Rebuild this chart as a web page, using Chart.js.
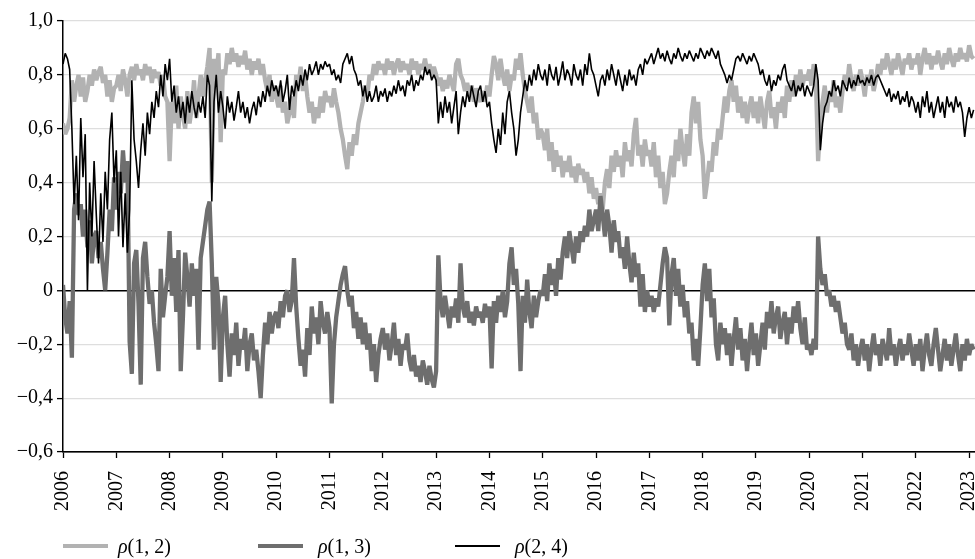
<!DOCTYPE html>
<html><head><meta charset="utf-8">
<script src="https://cdn.jsdelivr.net/npm/chart.js@4.4.1/dist/chart.umd.min.js"></script>
<style>
html,body{margin:0;padding:0;background:#fff;overflow:hidden;width:975px;height:559px;}
#wrap{position:relative;width:975px;height:559px;overflow:hidden;background:#fff;}
#c{position:absolute;left:0;top:0;width:1040px;height:559px;}
.lt{position:absolute;top:534px;height:24px;line-height:24px;font-family:"Liberation Serif",serif;font-size:20px;color:#000;white-space:nowrap;}
.sw{position:absolute;}
</style></head>
<body>
<div id="wrap">
<canvas id="c" width="1040" height="559"></canvas>
<div id="legend"></div>
</div>
<script>
// time axis: semi-monthly observations starting Jan 2006
const startYear = 2006;
const perYear = 24;
const xTicks = [2006,2007,2008,2009,2010,2011,2012,2013,2014,2015,2016,2017,2018,2019,2020,2021,2022,2023];
const yTicks = [-0.6,-0.4,-0.2,0,0.2,0.4,0.6,0.8,1.0];
const seriesNames = ['(1, 2)','(1, 3)','(2, 4)'];

// rho(1,2) light grey
const rho12 = [
0.62,0.58,0.6,0.64,0.78,0.7,0.76,0.8,0.72,0.79,0.7,0.74,0.8,0.76,0.82,0.78,0.81,0.83,0.77,0.8,0.72,0.78,0.7,0.75,
0.76,0.8,0.74,0.82,0.78,0.72,0.8,0.83,0.78,0.84,0.8,0.82,0.78,0.84,0.8,0.83,0.77,0.82,0.79,0.81,0.76,0.8,0.72,0.7,
0.48,0.7,0.62,0.76,0.6,0.72,0.65,0.6,0.74,0.62,0.68,0.78,0.64,0.72,0.8,0.72,0.78,0.83,0.9,0.4,0.86,0.8,0.88,0.55,
0.82,0.8,0.88,0.84,0.9,0.85,0.88,0.83,0.87,0.84,0.89,0.82,0.86,0.8,0.85,0.82,0.86,0.8,0.84,0.78,0.74,0.8,0.7,0.76,
0.72,0.68,0.76,0.66,0.7,0.62,0.66,0.72,0.64,0.8,0.76,0.83,0.74,0.8,0.72,0.66,0.7,0.62,0.68,0.64,0.72,0.66,0.74,0.7,
0.72,0.68,0.75,0.7,0.66,0.6,0.56,0.5,0.45,0.55,0.5,0.58,0.54,0.62,0.66,0.7,0.76,0.72,0.8,0.78,0.84,0.8,0.85,0.82,
0.84,0.8,0.86,0.82,0.85,0.8,0.84,0.86,0.81,0.85,0.82,0.84,0.8,0.86,0.82,0.85,0.8,0.84,0.82,0.86,0.81,0.84,0.8,0.83,
0.8,0.76,0.79,0.74,0.78,0.75,0.8,0.77,0.74,0.84,0.86,0.8,0.78,0.74,0.77,0.72,0.76,0.7,0.75,0.72,0.7,0.74,0.7,0.76,
0.72,0.8,0.87,0.84,0.78,0.86,0.8,0.76,0.82,0.74,0.8,0.78,0.86,0.82,0.88,0.8,0.74,0.7,0.66,0.72,0.62,0.66,0.56,0.6,
0.58,0.52,0.6,0.48,0.55,0.44,0.52,0.46,0.5,0.42,0.48,0.44,0.5,0.42,0.46,0.4,0.47,0.43,0.45,0.4,0.44,0.36,0.42,0.34,
0.38,0.32,0.36,0.3,0.4,0.45,0.38,0.5,0.44,0.52,0.46,0.5,0.42,0.55,0.48,0.52,0.46,0.58,0.64,0.5,0.54,0.46,0.56,0.5,
0.52,0.46,0.55,0.42,0.5,0.38,0.44,0.32,0.36,0.44,0.5,0.42,0.56,0.48,0.6,0.52,0.46,0.58,0.5,0.66,0.72,0.62,0.7,0.56,
0.5,0.34,0.4,0.48,0.44,0.55,0.5,0.6,0.56,0.64,0.72,0.66,0.74,0.78,0.7,0.76,0.66,0.72,0.64,0.7,0.62,0.68,0.72,0.64,
0.7,0.62,0.72,0.66,0.6,0.7,0.74,0.64,0.68,0.6,0.7,0.66,0.72,0.64,0.76,0.7,0.78,0.72,0.8,0.74,0.82,0.76,0.8,0.78,
0.82,0.76,0.84,0.78,0.48,0.62,0.7,0.76,0.66,0.74,0.7,0.78,0.68,0.72,0.66,0.74,0.8,0.76,0.84,0.78,0.74,0.8,0.76,0.82,
0.78,0.72,0.8,0.76,0.82,0.74,0.78,0.84,0.8,0.86,0.82,0.88,0.84,0.8,0.86,0.82,0.88,0.84,0.8,0.86,0.84,0.88,0.82,0.86,
0.84,0.88,0.8,0.86,0.9,0.84,0.88,0.82,0.87,0.84,0.89,0.85,0.82,0.88,0.84,0.9,0.86,0.83,0.88,0.85,0.9,0.86,0.88,0.85,
0.91,0.87,0.86
];

// rho(1,3) dark grey
const rho13 = [
0.02,-0.1,-0.16,-0.04,-0.25,0.3,0.36,0.28,0.32,0.2,0.3,0.16,0.26,0.1,0.2,0.22,0.12,0.18,0.08,0.0,0.14,0.3,0.22,0.42,
0.3,0.44,0.36,0.52,0.4,0.48,-0.19,-0.31,0.1,0.15,-0.05,-0.35,0.12,0.18,0.05,-0.05,0.0,-0.12,-0.2,-0.3,0.08,-0.1,-0.02,0.05,
0.22,-0.02,0.12,-0.08,0.15,-0.3,-0.1,0.14,0.05,-0.06,0.1,-0.02,0.08,-0.22,0.12,0.18,0.24,0.3,0.33,0.1,-0.22,0.05,-0.05,-0.34,
-0.1,-0.02,-0.2,-0.32,-0.16,-0.24,-0.12,-0.28,-0.18,-0.22,-0.14,-0.3,-0.2,-0.16,-0.26,-0.22,-0.3,-0.4,-0.24,-0.12,-0.2,-0.08,-0.16,-0.1,
-0.08,-0.14,-0.04,-0.1,-0.02,0.0,-0.08,-0.04,0.12,-0.06,-0.18,-0.28,-0.22,-0.32,-0.14,-0.24,-0.06,-0.16,-0.1,-0.2,-0.04,-0.12,-0.16,-0.08,
-0.14,-0.42,-0.2,-0.1,-0.04,0.02,0.06,0.09,0.0,-0.06,-0.02,-0.14,-0.08,-0.18,-0.1,-0.2,-0.12,-0.22,-0.16,-0.3,-0.2,-0.34,-0.24,-0.18,
-0.14,-0.22,-0.16,-0.26,-0.2,-0.12,-0.24,-0.18,-0.28,-0.2,-0.22,-0.16,-0.26,-0.3,-0.24,-0.32,-0.28,-0.34,-0.26,-0.3,-0.35,-0.28,-0.33,-0.36,
-0.3,0.13,-0.04,-0.1,-0.02,-0.08,-0.14,-0.06,-0.1,-0.03,-0.12,0.1,-0.06,-0.1,-0.04,-0.12,-0.08,-0.13,-0.06,-0.1,-0.08,-0.12,-0.05,-0.1,
-0.06,-0.29,-0.04,-0.12,-0.02,-0.08,0.0,-0.1,-0.04,0.1,0.16,0.02,0.08,-0.05,-0.3,-0.02,-0.12,0.04,-0.08,-0.14,-0.02,-0.1,-0.04,0.0,
-0.02,0.06,-0.04,0.1,0.02,0.08,-0.02,0.12,0.04,0.14,0.2,0.12,0.22,0.16,0.1,0.2,0.14,0.22,0.18,0.24,0.2,0.3,0.22,0.26,
0.3,0.22,0.35,0.28,0.2,0.3,0.24,0.14,0.26,0.18,0.22,0.12,0.16,0.08,0.2,0.1,0.03,0.14,0.05,0.1,-0.06,0.06,-0.08,0.0,
-0.06,-0.02,-0.08,-0.03,-0.06,0.02,0.1,0.16,0.12,-0.13,0.06,0.12,-0.02,0.08,-0.06,0.02,-0.1,-0.04,-0.16,-0.12,-0.26,-0.18,-0.28,-0.14,
0.02,0.1,-0.04,0.08,-0.1,-0.03,-0.2,-0.26,-0.12,-0.2,-0.14,-0.24,-0.16,-0.28,-0.18,-0.1,-0.22,-0.14,-0.26,-0.18,-0.3,-0.2,-0.12,-0.24,
-0.16,-0.28,-0.2,-0.12,-0.22,-0.08,-0.14,-0.04,-0.16,-0.1,-0.06,-0.18,-0.12,-0.08,-0.2,-0.1,-0.16,-0.06,-0.12,-0.04,-0.14,-0.2,-0.1,-0.22,
-0.2,-0.24,-0.18,-0.22,0.2,0.08,0.02,0.06,-0.02,0.0,-0.06,-0.02,-0.08,-0.04,-0.1,-0.16,-0.12,-0.2,-0.22,-0.16,-0.26,-0.2,-0.28,-0.22,
-0.18,-0.26,-0.2,-0.3,-0.22,-0.16,-0.24,-0.2,-0.28,-0.18,-0.22,-0.26,-0.14,-0.24,-0.2,-0.28,-0.22,-0.18,-0.26,-0.2,-0.24,-0.16,-0.22,-0.28,
-0.2,-0.26,-0.18,-0.3,-0.22,-0.16,-0.24,-0.28,-0.2,-0.14,-0.22,-0.3,-0.24,-0.18,-0.26,-0.2,-0.28,-0.22,-0.16,-0.24,-0.3,-0.2,-0.26,-0.18,
-0.24,-0.2,-0.22
];

// rho(2,4) black
const rho24 = [
0.84,0.88,0.86,0.82,0.6,0.32,0.5,0.26,0.64,0.42,0.58,0.0,0.4,0.2,0.48,0.28,0.1,0.36,0.18,0.44,0.3,0.56,0.66,0.4,
0.52,0.2,0.44,0.16,0.36,0.14,0.3,0.78,0.56,0.48,0.38,0.52,0.62,0.5,0.66,0.58,0.7,0.64,0.74,0.68,0.8,0.72,0.84,0.78,
0.86,0.7,0.76,0.66,0.72,0.64,0.7,0.62,0.72,0.66,0.74,0.68,0.64,0.7,0.66,0.72,0.64,0.8,0.76,0.33,0.7,0.8,0.66,0.74,
0.68,0.6,0.72,0.66,0.7,0.63,0.68,0.74,0.66,0.7,0.64,0.68,0.62,0.67,0.7,0.65,0.72,0.68,0.74,0.7,0.76,0.72,0.78,0.74,
0.76,0.72,0.78,0.7,0.74,0.8,0.67,0.76,0.72,0.78,0.74,0.8,0.76,0.82,0.78,0.84,0.8,0.82,0.85,0.8,0.84,0.82,0.85,0.83,
0.84,0.8,0.82,0.78,0.8,0.77,0.84,0.86,0.88,0.84,0.87,0.82,0.8,0.76,0.78,0.72,0.76,0.7,0.74,0.7,0.72,0.76,0.7,0.74,
0.72,0.75,0.7,0.74,0.72,0.76,0.73,0.78,0.74,0.76,0.72,0.78,0.76,0.8,0.74,0.78,0.76,0.8,0.78,0.83,0.8,0.82,0.78,0.8,
0.78,0.62,0.7,0.64,0.72,0.66,0.7,0.62,0.68,0.74,0.58,0.66,0.72,0.68,0.74,0.7,0.76,0.72,0.68,0.74,0.76,0.7,0.74,0.68,
0.7,0.62,0.56,0.51,0.6,0.54,0.66,0.58,0.7,0.74,0.66,0.6,0.5,0.56,0.66,0.72,0.78,0.74,0.8,0.76,0.82,0.78,0.84,0.8,
0.78,0.82,0.76,0.84,0.8,0.78,0.83,0.76,0.8,0.85,0.78,0.82,0.8,0.76,0.84,0.8,0.78,0.82,0.76,0.84,0.8,0.88,0.82,0.8,
0.76,0.72,0.78,0.8,0.76,0.82,0.78,0.84,0.8,0.76,0.82,0.78,0.74,0.8,0.76,0.82,0.78,0.8,0.76,0.82,0.84,0.8,0.86,0.84,
0.86,0.88,0.84,0.87,0.9,0.86,0.88,0.85,0.89,0.86,0.84,0.88,0.86,0.9,0.87,0.85,0.88,0.86,0.89,0.87,0.85,0.88,0.86,0.9,
0.88,0.86,0.89,0.87,0.9,0.88,0.86,0.89,0.84,0.82,0.8,0.77,0.8,0.78,0.82,0.86,0.87,0.85,0.88,0.86,0.84,0.87,0.85,0.88,
0.86,0.84,0.8,0.82,0.78,0.76,0.8,0.74,0.78,0.76,0.8,0.78,0.82,0.84,0.78,0.76,0.74,0.78,0.72,0.76,0.74,0.77,0.72,0.76,
0.74,0.72,0.76,0.84,0.78,0.52,0.62,0.68,0.7,0.74,0.72,0.78,0.74,0.76,0.72,0.78,0.76,0.74,0.79,0.75,0.78,0.76,0.8,0.77,
0.78,0.76,0.79,0.77,0.8,0.76,0.79,0.8,0.78,0.76,0.74,0.72,0.75,0.7,0.73,0.71,0.74,0.69,0.72,0.7,0.74,0.68,0.72,0.7,
0.66,0.7,0.64,0.72,0.68,0.74,0.66,0.7,0.64,0.68,0.72,0.66,0.7,0.64,0.72,0.68,0.7,0.66,0.72,0.68,0.7,0.66,0.57,0.64,
0.68,0.64,0.67
];

const colors = ['#b2b2b2','#6e6e6e','#000000'];
const widths = [4.3,4.3,1.6];

function toPoints(vals){ return vals.map((v,i)=>({x:startYear + i/perYear, y:v})); }
function fmtY(v){
  if (v === 0) return '0';
  return (v < 0 ? '\u2212' : '') + Math.abs(v).toFixed(1).replace('.', ',');
}
const FONT = {family:'"Liberation Serif", serif', size:20};

const ctx = document.getElementById('c').getContext('2d');
new Chart(ctx, {
  type:'line',
  data:{datasets:[
    {label:'\u03c1'+seriesNames[2], data:toPoints(rho24), borderColor:colors[2], borderWidth:widths[2], order:0},
    {label:'\u03c1'+seriesNames[1], data:toPoints(rho13), borderColor:colors[1], borderWidth:widths[1], order:1},
    {label:'\u03c1'+seriesNames[0], data:toPoints(rho12), borderColor:colors[0], borderWidth:widths[0], order:2}
  ]},
  options:{
    responsive:false, animation:false, devicePixelRatio:1,
    layout:{padding:{left:0,right:65,top:21,bottom:0}},
    elements:{point:{radius:0,hoverRadius:0}, line:{tension:0, borderJoinStyle:'bevel', fill:false}},
    plugins:{legend:{display:false}, tooltip:{enabled:false}},
    events:[],
    scales:{
      x:{type:'linear', min:2006, max:2023.11,
        afterBuildTicks:s=>{ s.ticks = xTicks.map(v=>({value:v})); },
        afterFit:s=>{ s.height = 107; },
        grid:{drawOnChartArea:false, drawTicks:true, tickLength:6, tickColor:'#000', tickWidth:1.3},
        border:{display:true, color:'#000', width:1.5},
        ticks:{autoSkip:false, minRotation:90, maxRotation:90, padding:13, color:'#000', font:FONT,
          callback:v=>String(v)}
      },
      y:{min:-0.6, max:1.0,
        afterBuildTicks:s=>{ s.ticks = yTicks.map(v=>({value:v})); },
        afterFit:s=>{ s.width = 63; },
        grid:{
          color:c=>(c.tick && (c.tick.value === 0 || c.tick.value === -0.6)) ? '#000' : '#dedede',
          lineWidth:c=>(c.tick && c.tick.value === 0) ? 1.5 : 1.2,
          drawTicks:true, tickLength:6, tickColor:'#000', tickWidth:1.3
        },
        border:{display:true, color:'#000', width:1.5},
        ticks:{padding:4, color:'#000', font:FONT, callback:v=>fmtY(v)}
      }
    }
  }
});

// legend (HTML, real text)
const legendPos = [{sw:63, tx:118},{sw:258, tx:318},{sw:455, tx:515}];
const leg = document.getElementById('legend');
seriesNames.forEach((name,i)=>{
  const sw = document.createElement('div');
  sw.className = 'sw';
  const h = widths[i] < 2 ? 1.6 : 4;
  sw.style.cssText = `left:${legendPos[i].sw}px;top:${546 - h/2}px;width:45px;height:${h}px;background:${colors[i]};`;
  leg.appendChild(sw);
  const t = document.createElement('div');
  t.className = 'lt';
  t.style.left = legendPos[i].tx + 'px';
  t.innerHTML = '<i>\u03c1</i>' + name;
  leg.appendChild(t);
});
</script>
</body></html>
